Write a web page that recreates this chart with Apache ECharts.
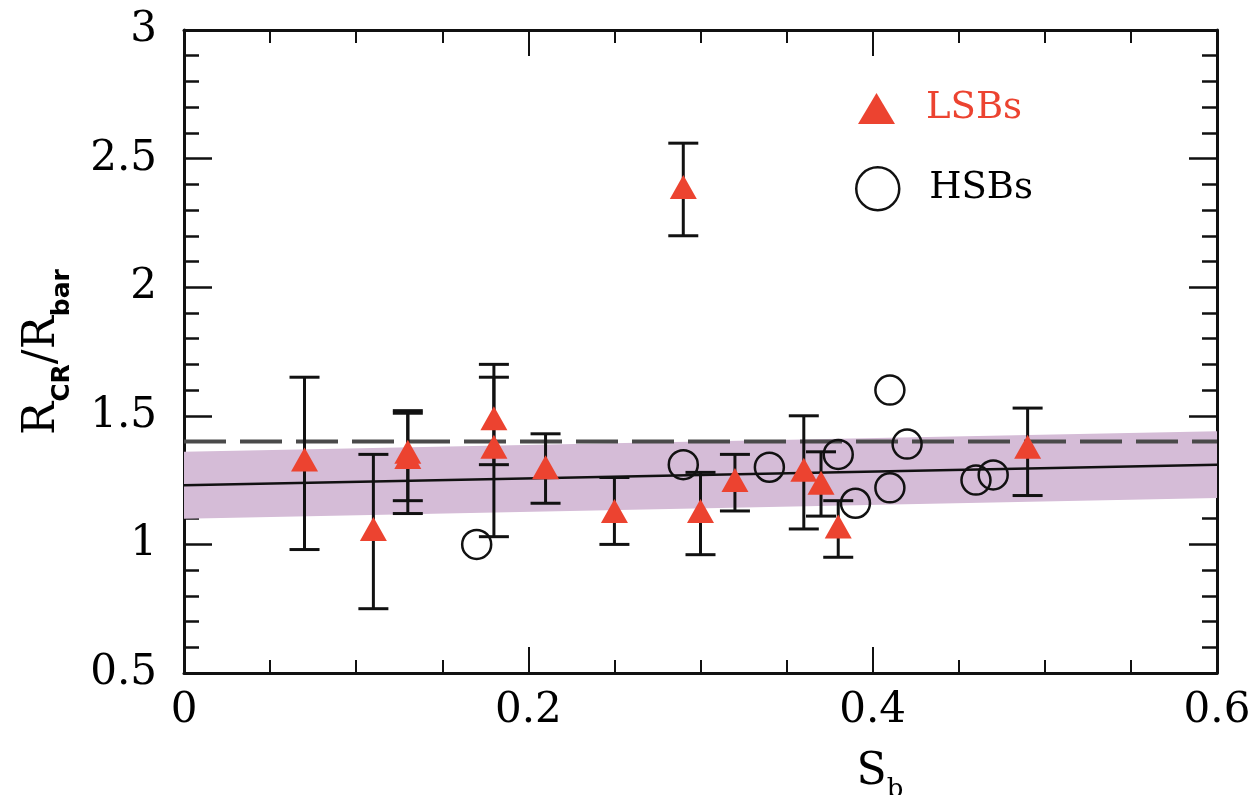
<!DOCTYPE html>
<html>
<head>
<meta charset="utf-8">
<script src="https://cdn.jsdelivr.net/npm/echarts@6/dist/echarts.min.js"></script>
<style>
html, body { margin: 0; padding: 0; background: #fff; }
#grafico { width: 1258px; height: 795px; }
</style>
</head>
<body>
<div id="grafico"></div>
<script>
// LSBs: triangulos rojos con barras de error
let lsbX = [0.07, 0.11, 0.13, 0.13, 0.18, 0.18, 0.21, 0.25, 0.29, 0.30, 0.32, 0.36, 0.37, 0.38, 0.49]
let lsbY = [1.33, 1.06, 1.36, 1.34, 1.49, 1.38, 1.30, 1.13, 2.39, 1.13, 1.25, 1.29, 1.24, 1.07, 1.38]
let lsbArriba = [1.65, 1.35, 1.52, 1.51, 1.70, 1.65, 1.43, 1.26, 2.56, 1.28, 1.35, 1.50, 1.36, 1.17, 1.53]
let lsbAbajo = [0.98, 0.75, 1.17, 1.12, 1.31, 1.03, 1.16, 1.00, 2.20, 0.96, 1.13, 1.06, 1.11, 0.95, 1.19]

// HSBs: circulos abiertos
let hsbX = [0.17, 0.29, 0.34, 0.38, 0.39, 0.41, 0.41, 0.42, 0.46, 0.47]
let hsbY = [1.00, 1.31, 1.30, 1.35, 1.16, 1.60, 1.22, 1.39, 1.25, 1.27]

// ajuste lineal, banda y linea de referencia
let ajusteX = [0, 0.6]
let ajusteY = [1.23, 1.31]
let bandaBaja = [1.10, 1.18]
let bandaAlta = [1.36, 1.44]
let referenciaY = [1.4, 1.4]

// ticks de los ejes
let xTicks = [0, 0.2, 0.4, 0.6]
let yTicks = [0.5, 1, 1.5, 2, 2.5, 3]

let rojo = '#ec4330'
let negro = '#111'
let fuente = 'DejaVu Serif'

let chartDom = document.getElementById('grafico')
let myChart = echarts.init(chartDom, null, { renderer: 'canvas' })

let puntosLsb = lsbX.map((x, i) => [x, lsbY[i]])
let barrasLsb = lsbX.map((x, i) => [x, lsbAbajo[i], lsbArriba[i]])
let puntosHsb = hsbX.map((x, i) => [x, hsbY[i]])
let banda = ajusteX.map((x, i) => [x, bandaBaja[i], bandaAlta[i]])

function ejeX(posicion, etiquetas) {
    return {
        type: 'value',
        position: posicion,
        min: xTicks[0],
        max: xTicks[xTicks.length - 1],
        interval: xTicks[1] - xTicks[0],
        axisLine: { show: true, onZero: false, lineStyle: { color: negro, width: 3 } },
        axisTick: { show: true, inside: true, length: 26, lineStyle: { color: negro, width: 2 } },
        minorTick: { show: true, splitNumber: 4, length: 13, lineStyle: { color: negro, width: 2 } },
        splitLine: { show: false },
        axisLabel: { show: etiquetas, color: '#000', fontSize: 42, fontFamily: fuente, margin: 17 },
    }
}

function ejeY(posicion, etiquetas) {
    return {
        type: 'value',
        position: posicion,
        min: yTicks[0],
        max: yTicks[yTicks.length - 1],
        interval: yTicks[1] - yTicks[0],
        axisLine: { show: true, onZero: false, lineStyle: { color: negro, width: 3 } },
        axisTick: { show: true, inside: true, length: 28, lineStyle: { color: negro, width: 2.5 } },
        minorTick: { show: true, splitNumber: 5, length: 15, lineStyle: { color: negro, width: 2.5 } },
        splitLine: { show: false },
        axisLabel: { show: etiquetas, color: '#000', fontSize: 42, fontFamily: fuente, margin: 27 },
    }
}

var option = {
    backgroundColor: '#fff',
    animation: false,
    grid: { left: 184, right: 41, top: 30, bottom: 122, containLabel: false },
    xAxis: [ejeX('bottom', true), ejeX('top', false)],
    yAxis: [ejeY('left', true), ejeY('right', false)],
    legend: [
        {
            data: [{ name: 'LSBs', icon: 'triangle' }],
            left: 858,
            top: 90,
            itemWidth: 37,
            itemHeight: 31,
            padding: 0,
            textStyle: { color: rojo, fontSize: 37, fontFamily: fuente, padding: [0, 0, 0, 26] },
        },
        {
            data: [{ name: 'HSBs', icon: 'circle', itemStyle: { color: 'rgba(0,0,0,0)', borderColor: negro, borderWidth: 2.5 } }],
            left: 855,
            top: 166,
            itemWidth: 43,
            itemHeight: 43,
            padding: 0,
            textStyle: { color: '#000', fontSize: 37, fontFamily: fuente, padding: [0, 0, 0, 25] },
        },
    ],
    graphic: [
        {
            type: 'text',
            x: 48,
            y: 352,
            rotation: Math.PI / 2,
            style: {
                text: '{m|R}{s|CR}{m|/R}{s|bar}',
                align: 'center',
                verticalAlign: 'middle',
                rich: {
                    m: { fontSize: 44, fontFamily: fuente, fill: '#000', lineHeight: 54, verticalAlign: 'top' },
                    s: { fontSize: 25, fontFamily: 'DejaVu Sans', fontWeight: 'bold', fill: '#000', lineHeight: 25, verticalAlign: 'bottom' },
                },
            },
        },
        {
            type: 'text',
            x: 880,
            y: 777,
            style: {
                text: '{m|S}{s|b}',
                align: 'center',
                verticalAlign: 'middle',
                rich: {
                    m: { fontSize: 44, fontFamily: fuente, fill: '#000', lineHeight: 52, verticalAlign: 'top' },
                    s: { fontSize: 26, fontFamily: fuente, fill: '#000', lineHeight: 26, verticalAlign: 'bottom' },
                },
            },
        },
    ],
    series: [
        {
            name: 'banda',
            type: 'custom',
            silent: true,
            encode: { x: 0, y: [1, 2] },
            renderItem: function (params, api) {
                // la banda se dibuja entera con el primer punto
                if (params.dataIndex !== 0) {
                    return
                }
                let puntos = []
                for (let i = 0; i < banda.length; i++) {
                    puntos.push(api.coord([banda[i][0], banda[i][2]]))
                }
                for (let i = banda.length - 1; i >= 0; i--) {
                    puntos.push(api.coord([banda[i][0], banda[i][1]]))
                }
                return { type: 'polygon', shape: { points: puntos }, style: { fill: '#d5bcd7' } }
            },
            data: banda,
            z: 1,
        },
        {
            name: 'referencia',
            type: 'line',
            symbol: 'none',
            silent: true,
            lineStyle: { color: '#4a4a4a', width: 4, type: [42, 14] },
            data: ajusteX.map((x, i) => [x, referenciaY[i]]),
            z: 2,
        },
        {
            name: 'ajuste',
            type: 'line',
            symbol: 'none',
            silent: true,
            lineStyle: { color: negro, width: 2.5 },
            data: ajusteX.map((x, i) => [x, ajusteY[i]]),
            z: 3,
        },
        {
            name: 'errores',
            type: 'custom',
            silent: true,
            encode: { x: 0, y: [1, 2] },
            renderItem: function (params, api) {
                let x = api.value(0)
                let abajo = api.coord([x, api.value(1)])
                let arriba = api.coord([x, api.value(2)])
                let w = 15
                let estilo = { stroke: negro, lineWidth: 3 }
                return {
                    type: 'group',
                    children: [
                        { type: 'line', shape: { x1: arriba[0], y1: arriba[1], x2: abajo[0], y2: abajo[1] }, style: estilo },
                        { type: 'line', shape: { x1: arriba[0] - w, y1: arriba[1], x2: arriba[0] + w, y2: arriba[1] }, style: estilo },
                        { type: 'line', shape: { x1: abajo[0] - w, y1: abajo[1], x2: abajo[0] + w, y2: abajo[1] }, style: estilo },
                    ],
                }
            },
            data: barrasLsb,
            z: 4,
        },
        {
            name: 'HSBs',
            type: 'scatter',
            symbol: 'circle',
            symbolSize: 29,
            itemStyle: { color: 'rgba(0,0,0,0)', borderColor: negro, borderWidth: 2.5, opacity: 1 },
            data: puntosHsb,
            z: 5,
        },
        {
            name: 'LSBs',
            type: 'scatter',
            symbol: 'triangle',
            symbolSize: [27, 24],
            itemStyle: { color: rojo, opacity: 1 },
            data: puntosLsb,
            z: 6,
        },
    ],
}

if (option && typeof option === 'object') {
    myChart.setOption(option)
}
window.addEventListener('resize', myChart.resize)
</script>
</body>
</html>
